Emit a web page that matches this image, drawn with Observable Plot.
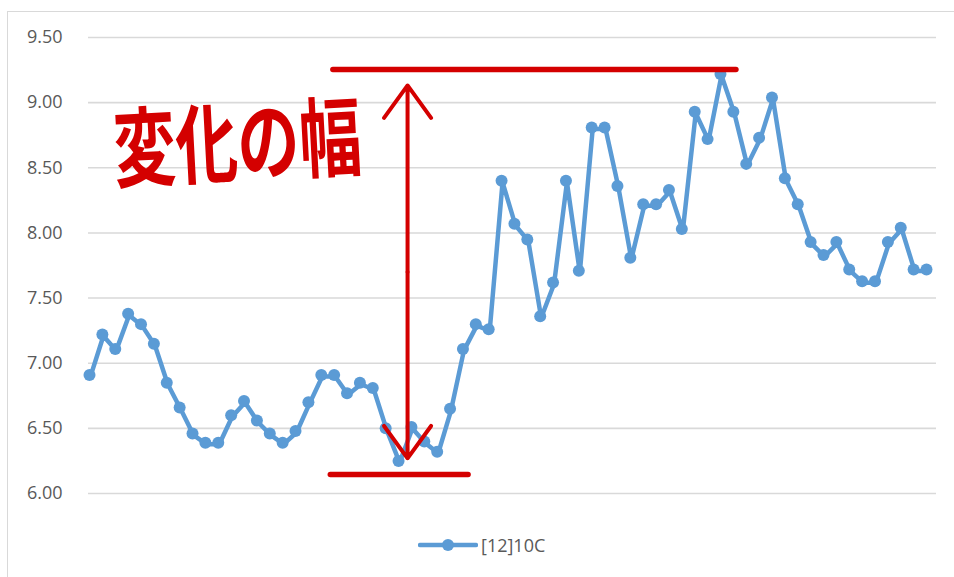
<!DOCTYPE html>
<html>
<head>
<meta charset="utf-8">
<script src="https://cdn.jsdelivr.net/npm/d3@7"></script>
<script src="https://cdn.jsdelivr.net/npm/@observablehq/plot@0.6"></script>
<style>
  html, body { margin: 0; padding: 0; background: #fff; }
  #wrap { position: relative; width: 954px; height: 577px; overflow: hidden; background: #fff; }
  #frame { position: absolute; left: 7px; top: 11px; width: 970px; height: 600px; border: 1.5px solid #d9d9d9; box-sizing: border-box; }
  #chart { position: absolute; left: 0; top: 0; }
  #legend { position: absolute; left: 418px; top: 532px; display: flex; align-items: center; font-family: "Open Sans", "Noto Sans", sans-serif; font-size: 18px; color: #595959; }
  #legend svg { margin-right: 3px; }
</style>
</head>
<body>
<div id="wrap">
  <div id="frame"></div>
  <div id="chart"></div>
  <div id="legend"></div>
</div>
<script>
// Series: [12]10C
const seriesName = "[12]10C";
const values = [
  6.91, 7.22, 7.11, 7.38, 7.30, 7.15, 6.85, 6.66, 6.46, 6.39,
  6.39, 6.60, 6.71, 6.56, 6.46, 6.39, 6.48, 6.70, 6.91, 6.91,
  6.77, 6.85, 6.81, 6.50, 6.25, 6.51, 6.40, 6.32, 6.65, 7.11,
  7.30, 7.26, 8.40, 8.07, 7.95, 7.36, 7.62, 8.40, 7.71, 8.81,
  8.81, 8.36, 7.81, 8.22, 8.22, 8.33, 8.03, 8.93, 8.72, 9.22,
  8.93, 8.53, 8.73, 9.04, 8.42, 8.22, 7.93, 7.83, 7.93, 7.72,
  7.63, 7.63, 7.93, 8.04, 7.72, 7.72
];
const yTicks = [6.0, 6.5, 7.0, 7.5, 8.0, 8.5, 9.0, 9.5];

// Hand-drawn annotation (in data units: x = point index, y = value)
const annotationLabel = "変化の幅";
const labelPos = [{x: 11.5, y: 8.66}];
const bracketLines = [
  {x1: 18.9, x2: 50.2, y: 9.255},
  {x1: 18.7, x2: 29.4, y: 6.146}
];
const arrowX = 24.7;
const arrowTop = 9.132;
const arrowBottom = 6.27;
const arrowMid = 7.7;

const data = values.map((v, i) => ({i, v}));
const blue = "#5b9bd5";
const red = "#d40000";

const chart = Plot.plot({
  width: 954,
  height: 520,
  marginLeft: 88,
  marginRight: 18,
  marginTop: 37,
  marginBottom: 27,
  style: {fontFamily: "'Open Sans', 'Noto Sans', sans-serif", fontSize: "18px", color: "#595959", background: "transparent"},
  x: {domain: [0, values.length - 1], range: [89, 926], axis: null},
  y: {domain: [6, 9.5], ticks: yTicks, tickFormat: d3.format(".2f")},
  marks: [
    Plot.ruleY(yTicks, {stroke: "#d9d9d9", strokeWidth: 1.6}),
    Plot.axisY({ticks: yTicks, tickFormat: d3.format(".2f"), tickSize: 0, tickPadding: 26, fill: "#595959", fontSize: 18}),
    Plot.line(data, {x: "i", y: "v", stroke: blue, strokeWidth: 4.5, dx: 1, dy: 1.5}),
    Plot.dot(data, {x: "i", y: "v", fill: blue, r: 6}),
    Plot.link(bracketLines, {x1: "x1", x2: "x2", y1: "y", y2: "y", stroke: red, strokeWidth: 5.5, strokeLinecap: "round"}),
    Plot.arrow([{x: arrowX, y1: arrowMid, y2: arrowTop}, {x: arrowX, y1: arrowMid, y2: arrowBottom}],
      {x1: "x", x2: "x", y1: "y1", y2: "y2", stroke: red, strokeWidth: 4, headLength: 15, headAngle: 72, strokeLinecap: "round"}),
    Plot.text(labelPos, {x: "x", y: "y", text: () => annotationLabel, fill: red, fontSize: 62, fontWeight: "bold", fontFamily: "'Noto Sans CJK JP', sans-serif", rotate: -3})
  ]
});
// stretch the hand-written style label vertically
d3.select(chart).selectAll("text").filter(function () { return this.textContent === annotationLabel; })
  .attr("transform", function () { return (this.getAttribute("transform") || "") + " scale(1,1.4)"; });
document.getElementById("chart").appendChild(chart);

// Legend
const legend = document.getElementById("legend");
const ls = d3.create("svg").attr("width", 60).attr("height", 26);
ls.append("line").attr("x1", 2).attr("x2", 58).attr("y1", 13).attr("y2", 13).attr("stroke", blue).attr("stroke-width", 4.5).attr("stroke-linecap", "round");
ls.append("circle").attr("cx", 30).attr("cy", 13).attr("r", 6).attr("fill", blue);
legend.appendChild(ls.node());
const lt = document.createElement("span");
lt.textContent = seriesName;
legend.appendChild(lt);
</script>
</body>
</html>
